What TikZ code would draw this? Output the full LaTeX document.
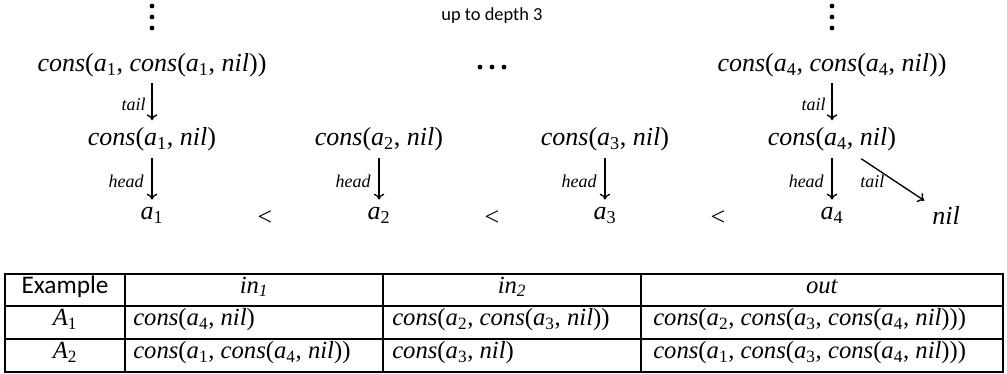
\documentclass[tikz,border=0pt]{standalone}
\usepackage{fontspec}
\setmainfont{Liberation Serif}
\setsansfont{Carlito}
\usetikzlibrary{arrows.meta}
\newcommand{\cs}{\textit{cons}}
\newcommand{\nl}{\textit{nil}}
\newcommand{\av}[1]{\textit{a}\textsubscript{#1}}
\begin{document}
\begin{tikzpicture}[x=0.75pt,y=-0.75pt,
  big/.style={inner sep=0pt, font=\fontsize{19.5}{22}\selectfont},
  lbl/.style={inner sep=0pt, font=\fontsize{13.5}{15}\selectfont\itshape},
  tbl/.style={inner sep=0pt, font=\fontsize{18.5}{21}\selectfont},
  hdr/.style={inner sep=0pt, font=\fontsize{19}{21}\selectfont\sffamily},
  note/.style={inner sep=0pt, font=\fontsize{13.8}{16}\selectfont\sffamily},
  arr/.style={-{To[length=4.5pt,width=8pt]}, line width=1pt, shorten <=4.8pt, shorten >=5.2pt},
  dotn/.style={circle, fill, inner sep=0pt, minimum size=3.6pt},
  rule/.style={line width=1pt}]
\useasboundingbox (0,0) rectangle (1007,374);

% vertical and horizontal ellipses
\foreach \y [count=\i] in {6,17,28} {
  \node[dotn] (vl\i) at (152,\y) {};
  \node[dotn] (vr\i) at (832,\y) {};
}
\foreach \x [count=\i] in {480,492,504} {
  \node[dotn] (hd\i) at (\x,67) {};
}
\node[note, anchor=mid] (depth) at (492,17) {up to depth 3};

% row 1
\node[big, anchor=mid] (t1) at (152,68) {\cs(\av{1}, \cs(\av{1}, \nl))};
\node[big, anchor=mid] (t4) at (832,68) {\cs(\av{4}, \cs(\av{4}, \nl))};

% row 2
\node[big, anchor=mid] (m1) at (152,142.5) {\cs(\av{1}, \nl)};
\node[big, anchor=mid] (m2) at (379,142.5) {\cs(\av{2}, \nl)};
\node[big, anchor=mid] (m3) at (605,142.5) {\cs(\av{3}, \nl)};
\node[big, anchor=mid] (m4) at (832,142.5) {\cs(\av{4}, \nl)};

% row 3
\node[big, anchor=mid] (b1) at (152,216) {\av{1}};
\node[big, anchor=mid] (b2) at (379,216) {\av{2}};
\node[big, anchor=mid] (b3) at (605,216) {\av{3}};
\node[big, anchor=mid] (b4) at (832,216) {\av{4}};
\node[big, anchor=mid] (nl) at (946,221) {\nl};
\node[big] (lt1) at (265,218) {<};
\node[big] (lt2) at (492,218) {<};
\node[big] (lt3) at (718,218) {<};

% connectors
\draw[arr] (t1.south) -- (m1.north);
\draw[arr] (t4.south) -- (m4.north);
\draw[arr] (m1.south) -- (b1.north);
\draw[arr] (m2.south) -- (b2.north);
\draw[arr] (m3.south) -- (b3.north);
\draw[arr] (m4.south) -- (b4.north);
\draw[arr, shorten <=10pt, shorten >=7pt] (m4) -- (nl);

% labels
\node[lbl, anchor=mid east] (lt1l) at (146,107) {tail};
\node[lbl, anchor=mid east] (lt4l) at (826,107) {tail};
\node[lbl, anchor=mid east] (lh1) at (144,184) {head};
\node[lbl, anchor=mid east] (lh2) at (371,184) {head};
\node[lbl, anchor=mid east] (lh3) at (597,184) {head};
\node[lbl, anchor=mid east] (lh4) at (824,184) {head};
\node[lbl, anchor=mid west] (ltd) at (860,184) {tail};

% table
\draw[rule] (5,274) rectangle (1003,372);
\draw[rule] (5,306) -- (1003,306);
\draw[rule] (5,339) -- (1003,339);
\draw[rule] (125,274) -- (125,372);
\draw[rule] (383,274) -- (383,372);
\draw[rule] (641,274) -- (641,372);

\node[hdr, anchor=mid] (hex) at (65,290) {Example};
\node[tbl, anchor=mid] (hin1) at (254,290) {\textit{in\textsubscript{1}}};
\node[tbl, anchor=mid] (hin2) at (512,290) {\textit{in\textsubscript{2}}};
\node[tbl, anchor=mid] (hout) at (822,290) {\textit{out}};

\node[tbl, anchor=mid] (ra1) at (65,322.5) {\textit{A}\textsubscript{1}};
\node[tbl, anchor=mid west] (c11) at (133,322.5) {\cs(\av{4}, \nl)};
\node[tbl, anchor=mid west] (c12) at (392,322.5) {\cs(\av{2}, \cs(\av{3}, \nl))};
\node[tbl, anchor=mid west] (c13) at (653,322.5) {\cs(\av{2}, \cs(\av{3}, \cs(\av{4}, \nl)))};

\node[tbl, anchor=mid] (ra2) at (65,355.5) {\textit{A}\textsubscript{2}};
\node[tbl, anchor=mid west] (c21) at (133,355.5) {\cs(\av{1}, \cs(\av{4}, \nl))};
\node[tbl, anchor=mid west] (c22) at (392,355.5) {\cs(\av{3}, \nl)};
\node[tbl, anchor=mid west] (c23) at (653,355.5) {\cs(\av{1}, \cs(\av{3}, \cs(\av{4}, \nl)))};
\end{tikzpicture}
\end{document}
